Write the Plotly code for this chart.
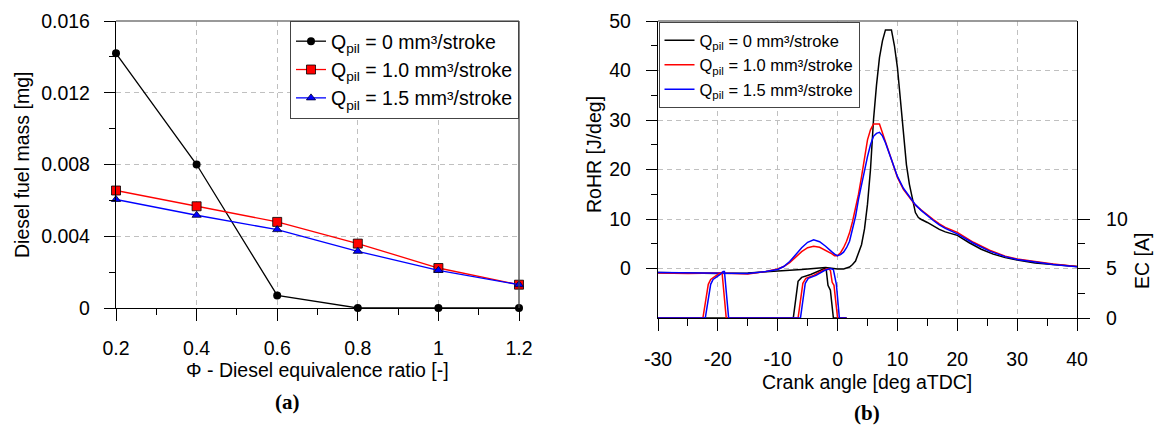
import plotly.graph_objects as go

W, H = 1156, 425
def px(x): return x / W
def py(y): return 1 - y / H

# ---------------- data: panel (a) ----------------
phi = [0.2, 0.4, 0.6, 0.8, 1.0, 1.2]
mass_q0 = [0.0142, 0.0080, 0.0007, 0.0, 0.0, 0.0]
mass_q10 = [0.00655, 0.00567, 0.0048, 0.00359, 0.00223, 0.0013]
mass_q15 = [0.00605, 0.00517, 0.00437, 0.00316, 0.0021, 0.0013]

# ---------------- data: panel (b) RoHR ----------------
ca_q0 = [-30, -25, -20, -15, -12, -10, -8, -6, -4, -2, 0, 1, 2, 2.5, 3, 3.5, 4, 4.5, 5, 5.5,
         6, 6.5, 7, 7.5, 8, 9, 9.5, 10, 10.5, 11, 11.5, 12, 12.5, 13, 13.5, 14, 15, 16, 17,
         18, 20, 22, 24, 26, 28, 30, 33, 36, 40]
rohr_q0 = [-0.8, -0.9, -1.0, -0.9, -0.7, -0.5, -0.4, -0.2, 0.0, 0.2, -0.1, -0.1, 0.3, 0.8,
           1.5, 3.0, 4.8, 8.0, 13.0, 20.0, 30.0, 37.0, 42.6, 46.0, 48.2, 48.2, 45.0, 40.6,
           34.0, 27.0, 21.0, 17.0, 14.0, 11.3, 10.3, 9.9, 9.3, 8.6, 7.9, 7.4, 6.7, 5.2, 3.9,
           2.9, 2.2, 1.7, 1.1, 0.8, 0.4]

ca_q10 = [-30, -25, -20, -15, -12, -10, -9, -8, -7, -6, -5, -4, -3, -2, -1, -0.5, 0, 0.5, 1,
          1.5, 2, 2.5, 3, 3.5, 4, 4.5, 5, 5.5, 6, 7, 7.5, 8, 9, 10, 11, 12, 13, 14, 15, 16,
          17, 18, 20, 22.7, 25.4, 28, 30, 34, 36, 40]
rohr_q10 = [-0.9, -1.0, -0.9, -1.1, -0.6, -0.1, 0.4, 1.2, 2.3, 3.4, 4.2, 4.5, 4.3, 3.7,
            3.0, 2.6, 2.6, 3.2, 4.2, 5.5, 7.2, 9.5, 12.0, 15.0, 18.5, 22.0, 26.0, 28.0, 29.2,
            29.2, 27.5, 25.4, 22.0, 18.4, 16.0, 14.4, 12.8, 11.8, 10.8, 9.9, 9.0, 8.3, 7.3,
            5.3, 3.7, 2.5, 1.9, 1.2, 0.9, 0.4]

ca_q15 = [-30, -25, -20, -15, -12, -10, -9, -8, -7, -6, -5, -4, -3, -2, -1, -0.5, 0, 0.5, 1,
          1.5, 2, 2.5, 3, 3.5, 4, 4.5, 5, 5.5, 6, 6.5, 7, 7.5, 8, 9, 10, 11, 12, 13, 14, 15,
          16, 17, 18, 20, 22.7, 25.4, 28, 30, 34, 36, 40]
rohr_q15 = [-0.8, -0.9, -0.9, -1.0, -0.6, -0.2, 0.4, 1.4, 2.8, 4.2, 5.3, 5.8, 5.4, 4.5,
            3.4, 2.9, 2.6, 2.8, 3.3, 4.2, 5.5, 8.0, 10.5, 14.0, 17.0, 20.0, 22.6, 25.0, 26.7,
            27.3, 27.5, 26.8, 25.4, 22.0, 18.6, 16.2, 14.5, 12.9, 11.7, 10.6, 9.7, 8.8, 8.1,
            7.0, 5.1, 3.5, 2.4, 1.8, 1.1, 0.8, 0.35]

# ---------------- data: panel (b) energizing current ----------------
ec_ca_q0 = [-30, -7.4, -6.6, -6.0, -4.5, -3.0, -2.2, -1.9, -1.6, -1.2, -0.7, 1.5]
ec_q0 = [0, 0, 3.7, 4.1, 4.4, 4.8, 5.0, 4.9, 3.3, 2.8, 0, 0]
ec_ca_q10 = [-30, -22.5, -21.6, -21.2, -20.0, -19.5, -19.3, -18.6, -6.6, -5.8, -5.3, -4.0,
             -2.5, -1.6, -1.2, -0.9, -0.6, 0.0, 1.5]
ec_q10 = [0, 0, 3.4, 3.9, 4.4, 4.6, 4.6, 0, 0, 3.5, 4.0, 4.3, 4.8, 5.0, 4.8, 3.6, 3.3, 0, 0]
ec_ca_q15 = [-30, -22.1, -21.2, -20.8, -19.6, -19.1, -18.9, -18.2, -6.2, -5.4, -4.9, -3.6,
             -2.2, -1.2, -0.7, -0.2, 0.3, 1.5]
ec_q15 = [0, 0, 3.4, 3.9, 4.4, 4.7, 4.7, 0, 0, 3.5, 4.0, 4.3, 4.8, 5.0, 4.9, 3.4, 0, 0]

series_names = ["Q<sub>pil</sub> = 0 mm³/stroke",
                "Q<sub>pil</sub> = 1.0 mm³/stroke",
                "Q<sub>pil</sub> = 1.5 mm³/stroke"]
colors = ["#000000", "#ff0000", "#0000ff"]

# tick labels
xa_ticks = [0.2, 0.4, 0.6, 0.8, 1.0, 1.2]
xa_text = ["0.2", "0.4", "0.6", "0.8", "1", "1.2"]
ya_ticks = [0, 0.004, 0.008, 0.012, 0.016]
ya_text = ["0", "0.004", "0.008", "0.012", "0.016"]
xb_ticks = [-30, -20, -10, 0, 10, 20, 30, 40]
xb_text = ["-30", "-20", "-10", "0", "10", "20", "30", "40"]
yb_ticks = [0, 10, 20, 30, 40, 50]
yb_text = ["0", "10", "20", "30", "40", "50"]
ec_ticks = [0, 5, 10]
ec_text = ["0", "5", "10"]

FONT = "Liberation Sans, Arial, sans-serif"
FS = 19.5

fig = go.Figure()

# panel (a)
marker_styles = [
    dict(symbol="circle", size=8, color="#000000"),
    dict(symbol="square", size=9, color="#ff0000", line=dict(color="#000000", width=0.8)),
    dict(symbol="triangle-up", size=8, color="#0000ff", line=dict(color="#000033", width=0.8)),
]
for name, ys, col, mk in zip(series_names, [mass_q0, mass_q10, mass_q15], colors, marker_styles):
    fig.add_trace(go.Scatter(x=phi, y=ys, mode="lines+markers", name=name,
                             line=dict(color=col, width=1.3), marker=mk,
                             xaxis="x", yaxis="y", legend="legend", cliponaxis=False))

# panel (b) EC (secondary axis)
for cas, ecs, col in zip([ec_ca_q0, ec_ca_q10, ec_ca_q15], [ec_q0, ec_q10, ec_q15], colors):
    fig.add_trace(go.Scatter(x=cas, y=ecs, mode="lines", showlegend=False,
                             line=dict(color=col, width=1.5), xaxis="x2", yaxis="y3"))
# panel (b) RoHR
for name, cas, rs, col in zip(series_names, [ca_q0, ca_q10, ca_q15],
                              [rohr_q0, rohr_q10, rohr_q15], colors):
    fig.add_trace(go.Scatter(x=cas, y=rs, mode="lines", name=name,
                             line=dict(color=col, width=1.5), xaxis="x2", yaxis="y2",
                             legend="legend2"))

grid = dict(showgrid=True, gridcolor="#c0c0c0", gridwidth=1, griddash="5px,4px")
axis_common = dict(showline=True, linecolor="#000000", linewidth=1.3, ticks="outside",
                   tickcolor="#000000", tickwidth=1.3, zeroline=False, automargin=False,
                   tickfont=dict(family=FONT, size=FS, color="#000000"))

def minor(vals, ln):
    return dict(tickmode="array", tickvals=vals, ticklen=ln, ticks="outside",
                tickcolor="#000000", tickwidth=1.3, showgrid=False)

fig.update_layout(
    template="none",
    width=W, height=H, autosize=False,
    margin=dict(l=0, r=0, t=0, b=0, pad=0),
    paper_bgcolor="white", plot_bgcolor="white",
    font=dict(family=FONT, size=FS, color="#000000"),
    xaxis=dict(domain=[px(116), px(519)], anchor="y", range=[0.2, 1.2],
               tickmode="array", tickvals=xa_ticks, ticktext=xa_text, ticklen=12,
               ticklabelstandoff=10, minor=minor([0.3, 0.5, 0.7, 0.9, 1.1], 6),
               **grid, **axis_common),
    yaxis=dict(domain=[py(308), py(21)], anchor="x", range=[0, 0.016],
               tickmode="array", tickvals=ya_ticks, ticktext=ya_text, ticklen=11,
               ticklabelstandoff=10, minor=minor([0.002, 0.006, 0.010, 0.014], 6),
               **grid, **axis_common),
    xaxis2=dict(domain=[px(658), px(1077)], anchor="y2", range=[-30, 40],
                tickmode="array", tickvals=xb_ticks, ticktext=xb_text, ticklen=12,
                ticklabelstandoff=11, minor=minor([-25, -15, -5, 5, 15, 25, 35], 7),
                **grid, **axis_common),
    yaxis2=dict(domain=[py(318), py(21)], anchor="x2", range=[-10, 50],
                tickmode="array", tickvals=yb_ticks, ticktext=yb_text, ticklen=11,
                ticklabelstandoff=11, minor=minor([5, 15, 25, 35, 45], 6),
                **grid, **axis_common),
    yaxis3=dict(overlaying="y2", anchor="x2", side="right", range=[0, 30],
                tickmode="array", tickvals=ec_ticks, ticktext=ec_text, ticklen=12,
                ticklabelstandoff=12, showgrid=False, minor=minor([2.5, 7.5], 7),
                **axis_common),
    legend=dict(x=px(519), y=py(21), xanchor="right", yanchor="top",
                bgcolor="white", bordercolor="#444444", borderwidth=1,
                font=dict(family=FONT, size=FS, color="#000000"),
                tracegroupgap=0, itemwidth=30),
    legend2=dict(x=px(658.5), y=py(22), xanchor="left", yanchor="top",
                 bgcolor="white", bordercolor="#444444", borderwidth=1,
                 font=dict(family=FONT, size=16.5, color="#000000"),
                 tracegroupgap=0, itemwidth=30),
)

# top / right borders
fig.add_shape(type="line", xref="x domain", yref="y domain", x0=0, x1=1, y0=1, y1=1,
              line=dict(color="#777777", width=1.3), layer="above")
fig.add_shape(type="line", xref="x domain", yref="y domain", x0=1, x1=1, y0=0, y1=1,
              line=dict(color="#444444", width=1.3), layer="above")
fig.add_shape(type="line", xref="x2 domain", yref="y2 domain", x0=0, x1=1, y0=1, y1=1,
              line=dict(color="#777777", width=1.3), layer="above")

# axis titles and panel labels as annotations
ann = [
    dict(text="Diesel fuel mass [mg]", x=px(22), y=py(165), textangle=-90),
    dict(text="Φ - Diesel equivalence ratio [-]", x=px(317), y=py(370)),
    dict(text="RoHR [J/deg]", x=px(594), y=py(155), textangle=-90),
    dict(text="EC [A]", x=px(1142), y=py(261), textangle=-90),
    dict(text="Crank angle [deg aTDC]", x=px(867), y=py(382)),
]
for a in ann:
    fig.add_annotation(xref="paper", yref="paper", showarrow=False, xanchor="center",
                       yanchor="middle", font=dict(family=FONT, size=FS, color="#000000"), **a)
for t, x, y in [("(a)", 287, 402), ("(b)", 867, 413)]:
    fig.add_annotation(xref="paper", yref="paper", showarrow=False, xanchor="center",
                       yanchor="middle", text=f"<b>{t}</b>", x=px(x), y=py(y),
                       font=dict(family="Liberation Serif, Times New Roman, serif", size=21,
                                 color="#000000"))

fig.write_html("out.html", config={"displayModeBar": False},
               post_script="document.body.style.margin='0px';"
                           "document.body.style.overflow='hidden';")
